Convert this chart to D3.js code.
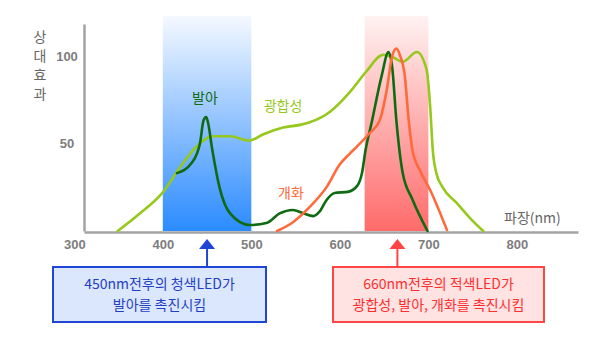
<!DOCTYPE html>
<html><head><meta charset="utf-8">
<script src="https://cdn.jsdelivr.net/npm/d3@7"></script>
<style>
html,body{margin:0;padding:0;background:#fff;}
svg{display:block;font-family:"Noto Sans CJK KR","Noto Sans",sans-serif;}
</style></head>
<body><svg id="c" width="598" height="339"></svg>
<script>
// ---- data ----
const xTicks = [300, 400, 500, 600, 700, 800];
const yTicks = [50, 100];
const yTitle = ["상", "대", "효", "과"];
const xTitle = "파장(nm)";
const seriesNames = ["광합성", "발아", "개화"];
const photosynthesis = [[349,0],[374,10],[400,22],[419,36],[438,48],[456,54],[476,54],[498,51.5],[513,55],[536,59],[555,60.5],[566,62],[589,68],[611,79],[630,91],[649,100.5],[660,99],[671,96.5],[687,102],[698,92],[702,71],[705,46],[709,33],[716,25],[732,16],[747,7.4],[762,0]];
const germination = [[416,33],[433,39],[442,50],[446,63],[449,65],[451,62],[456,46],[464,25],[476,10],[498,3.4],[517,4.5],[532,10],[547,12],[558,10.3],[570,8.5],[577,11],[585,17.7],[594,21.7],[609,22.3],[620,26],[625,33],[629,46],[636,62],[647,88],[655,102],[659,94],[664,62],[671,33],[682,18],[699,0]];
const flowering = [[529,0],[547,5],[566,13.7],[585,25],[600,38],[611,44],[619,48],[634,56],[645,63],[653,80.5],[659,99.5],[664,104],[668,100],[673,90],[678,62],[682,46],[690,35],[702,23.4],[721,0.5]];
const bandFrom = [400, 628];
const bandTo = [500, 700];
const arrowAt = [450, 665];
const boxLines = [["450nm전후의 청색LED가", "발아를 촉진시킴"], ["660nm전후의 적색LED가", "광합성, 발아, 개화를 촉진시킴"]];

// ---- layout ----
const svg = d3.select("#c");
const x = d3.scaleLinear().domain([311, 869]).range([84, 578]);
const y = d3.scaleLinear().domain([0, 118]).range([231, 24]);
const bandTop = 122.6;

const defs = svg.append("defs");
const gradColors = [["#f5f9ff", "#2b8bff"], ["#fff2f2", "#ff6b6b"]];
gradColors.forEach((c, i) => {
  const g = defs.append("linearGradient").attr("id", "g" + i).attr("x1", 0).attr("y1", 0).attr("x2", 0).attr("y2", 1);
  g.append("stop").attr("offset", 0).attr("stop-color", c[0]);
  g.append("stop").attr("offset", 1).attr("stop-color", c[1]);
});

svg.selectAll("rect.band").data(bandFrom).join("rect").attr("class", "band")
  .attr("x", d => x(d)).attr("width", (d, i) => x(bandTo[i]) - x(d))
  .attr("y", y(bandTop)).attr("height", y(0) - y(bandTop))
  .attr("fill", (d, i) => `url(#g${i})`);

// axes
const axisColor = "#a3a3a3";
const xAxis = svg.append("g").attr("transform", `translate(0,${y(0) + 1})`)
  .call(d3.axisBottom(x).tickValues(xTicks).tickSize(0).tickSizeOuter(0).tickPadding(8));
const yAxis = svg.append("g").attr("transform", `translate(${x(311)},0)`)
  .call(d3.axisLeft(y).tickValues(yTicks).tickSize(0).tickSizeOuter(0));
[xAxis, yAxis].forEach(a => {
  a.select(".domain").attr("stroke", axisColor).attr("stroke-width", 2.5);
  a.selectAll("text").attr("fill", "#7d7d7d").attr("font-size", 13).attr("font-weight", "bold")
    .attr("font-family", "'Liberation Sans', Arial, sans-serif");
});
yAxis.selectAll("text").attr("text-anchor", "middle").attr("x", -17).attr("dy", "0.35em");

svg.append("g").selectAll("text").data(yTitle).join("text")
  .attr("x", 40).attr("y", (d, i) => 37 + i * 19).attr("dy", "0.35em")
  .attr("text-anchor", "middle").attr("font-size", 14).attr("fill", "#666").text(d => d);
svg.append("text").attr("x", 504).attr("y", 218).attr("dy", "0.35em")
  .attr("font-size", 14).attr("fill", "#666").text(xTitle);

// lines
const line = d3.line().x(d => x(d[0])).y(d => y(d[1])).curve(d3.curveMonotoneX);
const lineColors = ["#96c81e", "#0f6a12", "#ff6a3a"];
[photosynthesis, germination, flowering].forEach((s, i) => {
  svg.append("path").attr("d", line(s)).attr("fill", "none")
    .attr("stroke", lineColors[i]).attr("stroke-width", 2.6).attr("stroke-linejoin", "round").attr("stroke-linecap", "round");
});

// series labels
const labelPos = [[283, 106], [205, 98], [291, 193]];
svg.append("g").selectAll("text").data(seriesNames).join("text")
  .attr("x", (d, i) => labelPos[i][0]).attr("y", (d, i) => labelPos[i][1]).attr("dy", "0.35em")
  .attr("text-anchor", "middle").attr("font-size", 14).attr("fill", (d, i) => lineColors[i]).text(d => d);

// annotation boxes and arrows
const boxStyle = [
  { stroke: "#1f45d4", fill: "#dbe7fc", text: "#1f3fc4", bx: 53, bw: 213 },
  { stroke: "#ff4545", fill: "#ffe2e2", text: "#ff2e2e", bx: 333, bw: 211 }
];
const boxTop = 267, boxH = 55;
arrowAt.forEach((w, i) => {
  const s = boxStyle[i], ax = x(w);
  svg.append("line").attr("x1", ax).attr("x2", ax).attr("y1", 247).attr("y2", boxTop)
    .attr("stroke", s.stroke).attr("stroke-width", 2);
  svg.append("path").attr("d", `M${ax},239 L${ax - 8},249 L${ax + 8},249 Z`).attr("fill", s.stroke);
  svg.append("rect").attr("x", s.bx).attr("y", boxTop).attr("width", s.bw).attr("height", boxH)
    .attr("fill", s.fill).attr("stroke", s.stroke).attr("stroke-width", 2);
  svg.append("g").selectAll("text").data(boxLines[i]).join("text")
    .attr("x", s.bx + s.bw / 2).attr("y", (d, j) => 284 + j * 21).attr("dy", "0.35em")
    .attr("text-anchor", "middle").attr("font-size", 14).attr("fill", s.text).text(d => d);
});
</script></body></html>
